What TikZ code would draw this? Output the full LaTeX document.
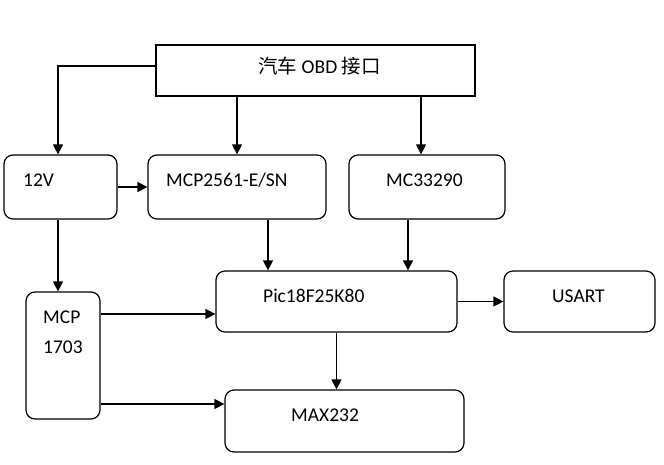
\documentclass[tikz,border=0pt]{standalone}
\usepackage{fontspec}
\setmainfont{Carlito}
\newfontfamily\cjk{Noto Sans CJK SC}
\usetikzlibrary{arrows.meta,positioning,calc}

\begin{document}
\begin{tikzpicture}[
    x=1pt, y=-1pt,
    box/.style={rectangle, draw=black, line width=1.2pt, rounded corners=9pt, inner sep=0pt},
    sharpbox/.style={rectangle, draw=black, line width=1.2pt, inner sep=0pt},
    lbl/.style={inner sep=0pt, font=\fontsize{19.5}{23}\selectfont},
    arrow/.style={-{Triangle[length=10pt,width=10pt]}, line width=1.2pt}
]
\useasboundingbox (0,0) rectangle (664,464);

% Interface
\node[sharpbox, minimum width=319pt, minimum height=51pt] (obd) at (315.5,70.5) {};
\node[lbl, anchor=base] (obdtxt) at (319.5,73.5) {{\cjk 汽车} OBD {\cjk 接口}};

% Power and bus transceivers
\node[box, minimum width=113pt, minimum height=64pt] (v12) at (60.5,187) {};
\node[lbl, anchor=base west] (v12txt) at (23,186.5) {12V};
\node[box, minimum width=178pt, minimum height=64pt] (can) at (237,187) {};
\node[lbl, anchor=base west] (cantxt) at (166,186.5) {MCP2561-E/SN};
\node[box, minimum width=156pt, minimum height=64pt] (kline) at (427,187) {};
\node[lbl, anchor=base west] (klinetxt) at (386,186.5) {MC33290};

% Controller
\node[box, minimum width=241pt, minimum height=61pt] (pic) at (336.5,301.5) {};
\node[lbl, anchor=base west] (pictxt) at (263,302.5) {Pic18F25K80};
\node[box, minimum width=151pt, minimum height=61pt] (usart) at (579.5,301.5) {};
\node[lbl, anchor=base west] (usarttxt) at (552,302.5) {USART};

% Regulator
\node[box, minimum width=74pt, minimum height=127pt] (ldo) at (63,355.5) {};
\node[lbl, anchor=base west] (ldotxt) at (43,323.5) {MCP};
\node[lbl, anchor=base west] (ldonum) at (43,353.5) {1703};

% Serial driver
\node[box, minimum width=239pt, minimum height=62pt] (max) at (344.5,421) {};
\node[lbl, anchor=base west] (maxtxt) at (291,421.5) {MAX232};

% Connections
\draw[arrow] ([yshift=4.5pt]obd.west) -| ([xshift=-2.5pt]v12.north);
\draw[arrow] (can.north |- obd.south) -- (can.north);
\draw[arrow] ([xshift=-6pt]kline.north |- obd.south) -- ([xshift=-6pt]kline.north);
\draw[arrow] (v12.east) -- (can.west);
\draw[arrow] ([xshift=-2.5pt]v12.south) -- ([xshift=-2.5pt]v12.south |- ldo.north);
\draw[arrow] ([xshift=31pt]can.south) -- ([xshift=31pt]can.south |- pic.north);
\draw[arrow] ([xshift=-19pt]kline.south) -- ([xshift=-19pt]kline.south |- pic.north);
\draw[arrow] ([yshift=41.5pt]ldo.east) -- ([yshift=41.5pt]ldo.east -| pic.west);
\draw[arrow] ([yshift=-48.5pt]ldo.east) -- ([yshift=-48.5pt]ldo.east -| max.west);
\draw[arrow] (pic.south) -- (pic.south |- max.north);
\draw[arrow] (pic.east) -- (usart.west);

\end{tikzpicture}
\end{document}
